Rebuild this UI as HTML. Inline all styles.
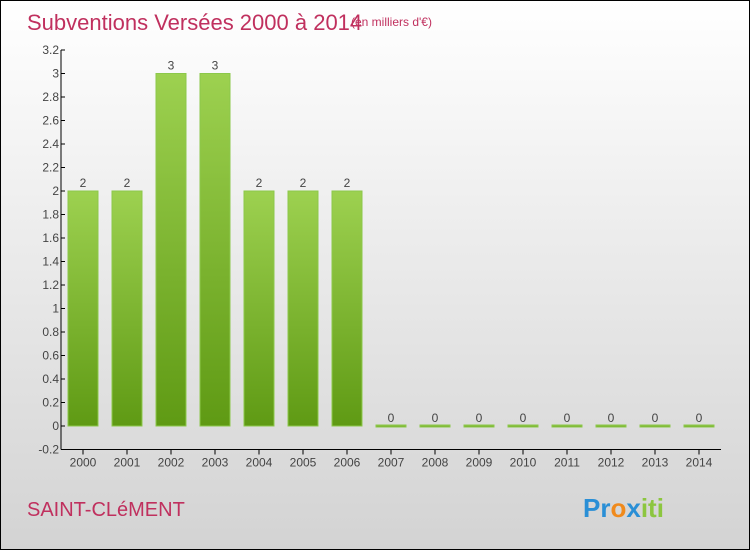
<!DOCTYPE html>
<html><head><meta charset="utf-8"><style>
body{margin:0}
#c{width:748px;height:548px;border:1px solid #000;background:linear-gradient(#fff,#d3d3d3);position:relative;font-family:"Liberation Sans",sans-serif}
</style></head><body>
<div id="c">
<svg id="s" width="748" height="548">
<defs><linearGradient id="g" x1="0" y1="0" x2="0" y2="1"><stop offset="0" stop-color="#9dd150"/><stop offset="1" stop-color="#5f9a14"/></linearGradient></defs>
<text x="26" y="29" font-size="22" fill="#c0305e">Subventions Versées 2000 à 2014</text>
<text x="350" y="25" font-size="12" fill="#c0305e">(en milliers d'€)</text>
<text x="26" y="515" font-size="20" fill="#c0305e">SAINT-CLéMENT</text>
<text x="582" y="516" font-size="26" font-weight="bold"><tspan fill="#2a8fd6">Pr</tspan><tspan fill="#f08a1c">o</tspan><tspan fill="#2a8fd6">x</tspan><tspan fill="#8cc63f">iti</tspan></text>
<g id="plot"></g>
</svg></div>
<script>
const categories=["2000","2001","2002","2003","2004","2005","2006","2007","2008","2009","2010","2011","2012","2013","2014"];
const values=[2,2,3,3,2,2,2,0,0,0,0,0,0,0,0];
const yTicks=[-0.2,0,0.2,0.4,0.6,0.8,1,1.2,1.4,1.6,1.8,2,2.2,2.4,2.6,2.8,3,3.2];
const ns="http://www.w3.org/2000/svg",p=document.getElementById('plot');
const x0=60,bw=44,y=v=>425-v/0.2*23.5;
function mk(t,a,txt){const e=document.createElementNS(ns,t);for(const k in a)e.setAttribute(k,a[k]);if(txt!=null)e.textContent=txt;p.appendChild(e);return e;}
let ax=mk('line',{x1:x0,y1:y(3.2),x2:x0,y2:y(-0.2),stroke:'#000'});

let bx=mk('line',{x1:x0,y1:y(-0.2),x2:x0+bw*categories.length,y2:y(-0.2),stroke:'#000'});

yTicks.forEach(t=>{const yy=y(t);mk('line',{x1:x0,y1:yy,x2:x0+4,y2:yy,stroke:'#000'});
const e=mk('text',{x:x0-2,y:yy+4,'font-size':12,'text-anchor':'end',fill:'#444'},String(Math.round(t*10)/10));
});
categories.forEach((c,i)=>{const cx=x0+bw/2+bw*i;
mk('line',{x1:cx,y1:y(-0.2),x2:cx,y2:y(-0.2)+5,stroke:'#000'});
const l=mk('text',{x:cx,y:y(-0.2)+17,'font-size':12,'text-anchor':'middle',fill:'#444'},c);

const v=values[i],top=y(v),h=Math.max(y(0)-top,2);
const r=mk('rect',{x:cx-15,y:Math.min(top,y(0)-1),width:30,height:h,fill:'url(#g)',stroke:'#8cc84a','stroke-width':1});

const vl=mk('text',{x:cx,y:Math.min(top,y(0))-4,'font-size':12,'text-anchor':'middle',fill:'#444'},String(v));
});
</script></body></html>
